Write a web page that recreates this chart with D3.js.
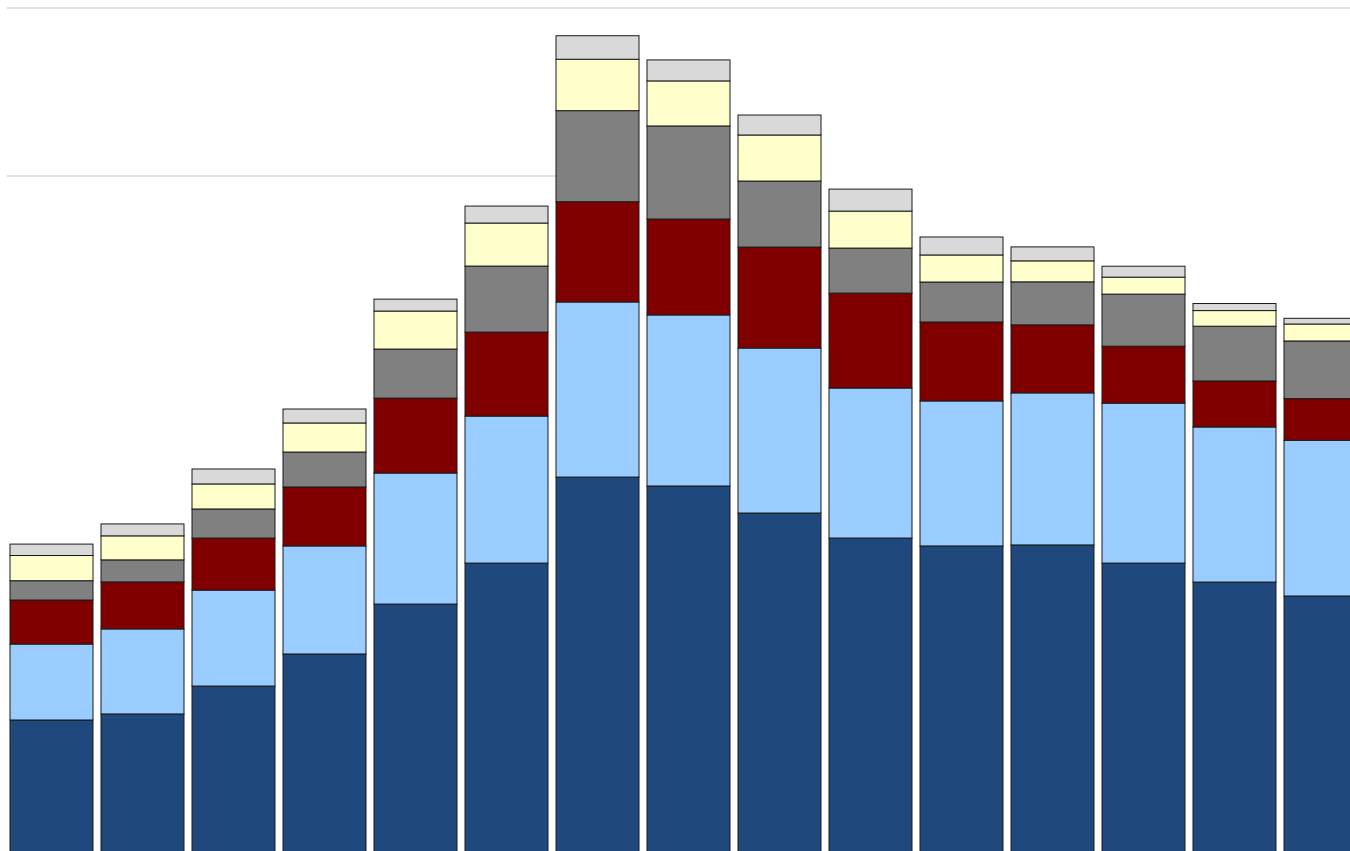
<!DOCTYPE html>
<html>
<head>
<meta charset="utf-8">
<script src="https://cdn.jsdelivr.net/npm/d3@7"></script>
<style>
  html, body { margin: 0; padding: 0; background: #fff; overflow: hidden; }
</style>
</head>
<body>
<svg id="chart"></svg>
<script>
// categories (labels are not shown in the picture)
const categories = ["1", "2", "3", "4", "5", "6", "7", "8", "9", "10", "11", "12", "13", "14", "15"];

// series values, bottom to top
const seriesNames = ["s1", "s2", "s3", "s4", "s5", "s6"];
const s1 = [176.2, 179.8, 196.4, 215.5, 245.2, 269.6, 320.8, 315.5, 299.4, 284.5, 279.8, 280.4, 269.6, 258.3, 250.0];
const s2 = [45.2, 50.6, 57.1, 64.3, 78.0, 87.5, 104.2, 101.8, 98.2, 89.3, 86.3, 90.5, 95.2, 92.3, 92.7];
const s3 = [26.2, 28.0, 31.0, 35.1, 44.6, 50.0, 59.7, 57.1, 60.1, 56.5, 47.0, 40.5, 33.9, 27.4, 24.8];
const s4 = [11.5, 13.1, 17.3, 20.8, 29.2, 39.3, 54.2, 55.4, 39.3, 26.8, 23.8, 25.6, 31.0, 32.6, 34.3];
const s5 = [15.0, 14.3, 14.9, 17.3, 22.6, 25.6, 30.6, 26.8, 27.4, 22.0, 16.1, 12.5, 10.1, 9.3, 10.1];
const s6 = [6.8, 7.1, 8.9, 8.3, 7.1, 10.1, 14.0, 12.5, 11.9, 13.1, 10.7, 8.3, 6.5, 4.2, 3.4];
const colors = ["#1f497d", "#99ccff", "#800000", "#808080", "#ffffcc", "#d9d9d9"];

const gridTicks = [500, 600];

const width = 1350, height = 851;
const svg = d3.select("#chart").attr("width", width).attr("height", height);

const table = categories.map((c, i) => ({
  cat: c, s1: s1[i], s2: s2[i], s3: s3[i], s4: s4[i], s5: s5[i], s6: s6[i]
}));

const stack = d3.stack().keys(seriesNames)(table);

const x = d3.scaleBand()
  .domain(categories)
  .range([6, 1371])
  .paddingInner(8 / 91)
  .paddingOuter(4 / 91);

// baseline sits below the visible area
const y = d3.scaleLinear().domain([0, 600]).range([1016, 8]);

// gridlines
svg.append("g")
  .selectAll("line")
  .data(gridTicks)
  .join("line")
  .attr("x1", 7)
  .attr("x2", d => d === 600 ? width : x(categories[6]))
  .attr("y1", d => y(d))
  .attr("y2", d => y(d))
  .attr("stroke", "#d9d9d9")
  .attr("stroke-width", 1.5);

svg.append("g")
  .selectAll("g")
  .data(stack)
  .join("g")
  .attr("fill", (d, i) => colors[i])
  .selectAll("rect")
  .data(d => d)
  .join("rect")
  .attr("x", d => x(d.data.cat))
  .attr("width", x.bandwidth())
  .attr("y", d => y(d[1]))
  .attr("height", d => y(d[0]) - y(d[1]))
  .attr("stroke", "#1a1a1a")
  .attr("stroke-width", 1);
</script>
</body>
</html>
